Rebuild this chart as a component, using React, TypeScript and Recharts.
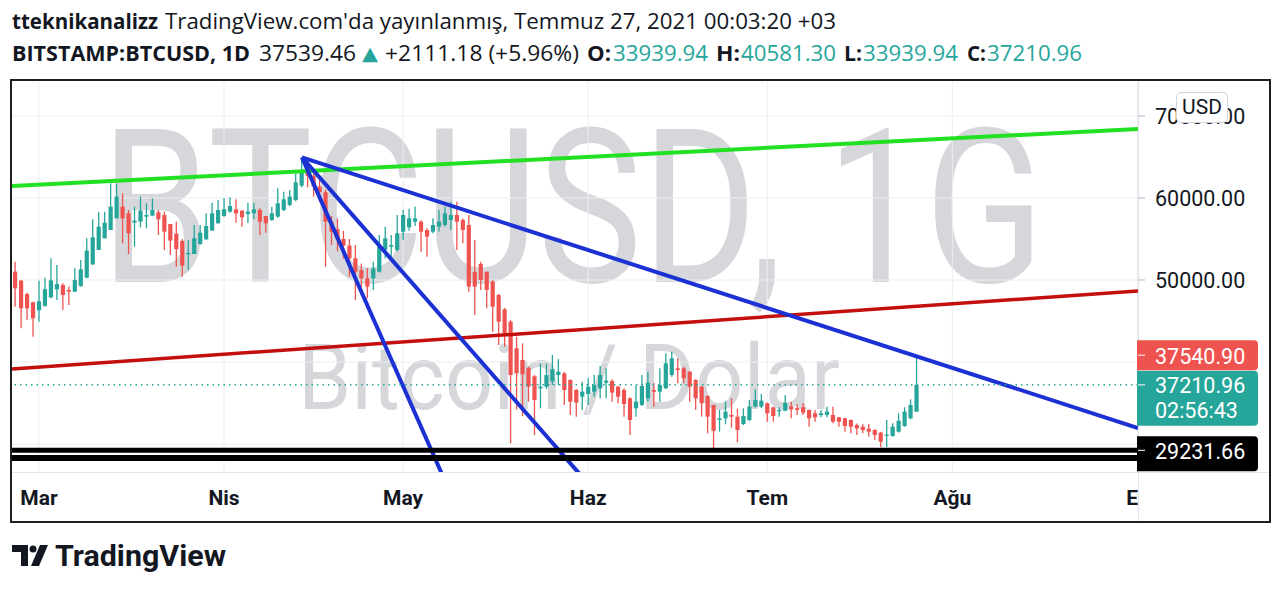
import React, { useLayoutEffect, useRef, useState } from 'react';
import { ComposedChart, Bar, XAxis, YAxis, CartesianGrid, ReferenceLine } from 'recharts';

// ---- data (daily candles, day index 0 = 1 Mart 2021) ----
const FIRST_DAY = -4;
const OPEN = [
  51017, 49919, 48293, 47276, 46300, 46850, 47886, 48862, 49390, 48781,
  48578, 49269, 50285, 51911, 53659, 55082, 56098, 57521, 58944, 58131,
  57000, 57114, 57724, 57846, 58253, 57927, 56830, 55650, 54770, 53211,
  53171, 54390, 54960, 56017, 56911, 57805, 58333, 58618, 58456, 58049,
  58130, 58537, 57805, 57317, 57724, 58537, 59146, 59756, 61500, 63400,
  62700, 61400, 60700, 57114, 56200, 55000, 54200, 52643, 51200, 50203,
  50203, 51017, 53659, 54065, 53659, 55895, 56424, 57114, 57114, 56098,
  55895, 56504, 56708, 57317, 57927, 57317, 56708, 51000, 51951, 51017,
  49797, 48171, 46423, 44919, 41667, 40244, 39300, 38250, 36789, 36992,
  37602, 38415, 38618, 37805, 36585, 35772, 36098, 36382, 36789, 37480,
  37683, 36992, 36585, 35569, 34350, 34756, 35569, 36585, 36382, 36789,
  38415, 39227, 39227, 38821, 37805, 36992, 35853, 34756, 32927, 33130,
  33537, 33333, 32439, 32927, 34553, 34553, 34960, 34472, 34065, 34065,
  34553, 34350, 34472, 34147, 33740, 33537, 33537, 33537, 33253, 33130,
  32927, 32317, 32114, 31870, 31707, 31382, 30976, 30976, 31504, 32195,
  33130, 33939.94,
];
const HIGH = [
  52236, 49999, 48455, 47358, 49900, 50260, 52642, 51829, 49594, 49187,
  51423, 52439, 55082, 57399, 58334, 58334, 61789, 61789, 60570, 58537,
  58944, 60163, 59350, 59960, 58537, 58334, 56830, 57114, 54970, 54878,
  56708, 56708, 58131, 59431, 59756, 59960, 60082, 59838, 58500, 59431,
  59431, 58740, 57805, 58943, 61179, 60773, 60976, 63000, 64878, 64200,
  63000, 62200, 61000, 57800, 57500, 56000, 55000, 54269, 52000, 51424,
  52236, 55488, 56504, 55500, 57927, 58537, 58700, 58944, 57300, 56300,
  57521, 58537, 58944, 59553, 59553, 57500, 57927, 54878, 52236, 51017,
  50000, 48300, 46600, 45100, 43090, 42277, 39431, 38415, 39837, 39837,
  40854, 40325, 38822, 37900, 36700, 37602, 38008, 38415, 39512, 39228,
  37887, 37100, 36789, 35700, 37195, 38415, 38800, 37398, 39228, 41057,
  41260, 40447, 39431, 38900, 37900, 37050, 35950, 34800, 34146, 35200,
  35569, 34300, 34350, 35366, 36667, 36098, 35050, 34500, 34472, 35976,
  35163, 34878, 34960, 34200, 34147, 34147, 34553, 34553, 33300, 33200,
  33000, 32500, 32400, 32439, 31800, 31500, 32927, 32520, 33740, 34472,
  35447, 40581.3,
];
const LOW = [
  46748, 44106, 45122, 43089, 44919, 46748, 47764, 47561, 46342, 46951,
  48578, 49187, 50204, 51829, 53659, 55082, 56098, 57521, 54472, 53171,
  54065, 56423, 56301, 57846, 55488, 53659, 53050, 51626, 50406, 51219,
  53171, 54300, 54900, 56000, 56900, 57724, 58200, 56992, 56504, 56911,
  57400, 55488, 55773, 57200, 57600, 58400, 59000, 59600, 61300, 61300,
  60163, 59600, 51626, 54269, 53500, 52600, 50407, 47561, 49200, 47764,
  48781, 50900, 52643, 52643, 53500, 54878, 56000, 56600, 53455, 52846,
  55700, 55900, 56500, 56100, 53659, 54472, 48578, 45732, 48781, 46545,
  43700, 42073, 41870, 30082, 34200, 33400, 35163, 31098, 34350, 36700,
  37195, 37195, 34756, 33537, 33333, 34146, 34756, 35772, 35569, 35569,
  35163, 34959, 33333, 31098, 33333, 34634, 35163, 34553, 35163, 36700,
  38211, 37398, 37398, 35163, 34146, 33333, 31301, 29500, 31504, 32400,
  32000, 30200, 32317, 32800, 34472, 34400, 32724, 32724, 33333, 34000,
  33130, 33537, 33537, 32114, 32724, 33253, 33253, 32521, 32114, 31504,
  31301, 31098, 31301, 30895, 30488, 29594, 29594, 30895, 31400, 32100,
  33008, 33939.94,
];
const CLOSE = [
  48984, 46545, 46545, 45325, 47400, 48880, 49960, 49512, 48171, 48578,
  50000, 51301, 53578, 55204, 56504, 56992, 58944, 60163, 57521, 55692,
  57236, 58456, 57927, 58537, 57400, 55895, 54800, 53760, 51760, 53300,
  55082, 55773, 56586, 58130, 58537, 58618, 59024, 58130, 57642, 58333,
  58618, 57114, 56911, 58130, 59350, 59838, 60163, 61900, 63400, 62700,
  61400, 60700, 57114, 55894, 55000, 54200, 52643, 51017, 50203, 49187,
  51424, 54065, 55082, 54268, 55692, 57927, 57521, 57521, 55895, 55285,
  56708, 57114, 58130, 57927, 57114, 56098, 49187, 49187, 50000, 48781,
  46748, 44919, 43496, 38415, 38600, 38500, 37000, 35366, 36992, 38415,
  39106, 38822, 36585, 35163, 35041, 36382, 36992, 37195, 38415, 37724,
  36260, 35772, 34878, 32927, 35163, 37073, 37480, 36382, 37195, 39837,
  40447, 39024, 38008, 36992, 35569, 34959, 33333, 31600, 33130, 33943,
  33333, 31707, 33415, 34553, 35366, 35285, 33740, 33415, 34146, 35041,
  34228, 34146, 33821, 33130, 33253, 33740, 33943, 32724, 32724, 32195,
  32114, 31911, 31707, 31504, 31098, 30285, 31138, 32114, 32846, 33943,
  34756, 37210.96,
];

const MONTH_TICKS = [0, 31, 61, 92, 122, 153, 184];
const MONTH_LABELS = ['Mar', 'Nis', 'May', 'Haz', 'Tem', 'Ağu', 'Ey'];
const PRICE_TICKS = [50000, 60000, 70000];
const GRID_PRICES = [30000, 40000, 50000, 60000, 70000];
const X_DOMAIN: [number, number] = [-4.52, 184.1];
const Y_DOMAIN: [number, number] = [26585, 74146];

const GREEN_LINE = [{ x: -4.52, y: 61463 }, { x: 184.1, y: 68415 }];
const RED_LINE = [{ x: -4.52, y: 39146 }, { x: 184.1, y: 48659 }];
const BLUE_LINES = [
  [{ x: 44.05, y: 64950 }, { x: 184.1, y: 31951 }],
  [{ x: 44.05, y: 64950 }, { x: 92.93, y: 24390 }],
  [{ x: 44.05, y: 64950 }, { x: 68.68, y: 24390 }],
];
const LAST_PRICE = 37210.96;
const COUNTDOWN = '02:56:43';
const ALT_PRICE = 37540.9;
const SUPPORT_1 = 29231.66;
const SUPPORT_2 = 28300;

const UP = '#26a69a';
const DOWN = '#ef5350';
const TEXT = '#131722';

const data = OPEN.map((o, i) => ({
  d: FIRST_DAY + i,
  open: o,
  high: HIGH[i],
  low: LOW[i],
  close: CLOSE[i],
  range: [LOW[i], HIGH[i]],
}));

const Candle = (props: any) => {
  const { x, y, width, height, payload } = props;
  if (!payload || x == null || y == null) return null;
  const top = Math.min(y, y + height);
  const h = Math.abs(height);
  const { open, close, high, low } = payload;
  const span = high - low || 1;
  const py = (p: number) => top + ((high - p) / span) * h;
  const color = close >= open ? UP : DOWN;
  const cx = x + width / 2;
  const yo = py(open);
  const yc = py(close);
  const bt = Math.min(yo, yc);
  const bh = Math.max(1.3, Math.abs(yo - yc));
  return (
    <g>
      <line x1={cx} x2={cx} y1={top} y2={top + h} stroke={color} strokeWidth={1.3} />
      <rect x={cx - 2.1} y={bt} width={4.2} height={bh} fill={color} />
    </g>
  );
};

const MonthTick = (props: any) => {
  const { x, payload, index } = props;
  const i = MONTH_TICKS.indexOf(payload.value);
  const id = `mclip${index}`;
  return (
    <g>
      <defs>
        <clipPath id={id}>
          <rect x={12} y={473} width={1126} height={49} />
        </clipPath>
      </defs>
      <text
        x={x}
        y={505}
        textAnchor="middle"
        fontFamily="Roboto"
        fontWeight={700}
        fontSize={21}
        fill={TEXT}
        clipPath={`url(#${id})`}
      >
        {MONTH_LABELS[i]}
      </text>
    </g>
  );
};

const makeTag = (bg: string, texts: string[], top: number, bottom: number, shift = 0) => (props: any) => {
  const vb = props.viewBox || {};
  const x0 = (vb.x ?? 0) + (vb.width ?? 0) - 1;
  const yc = (vb.y ?? 0) + shift;
  const w = 121;
  const r = 4;
  const d = `M${x0},${yc - top} H${x0 + w - r} A${r},${r} 0 0 1 ${x0 + w},${yc - top + r} V${yc + bottom - r} A${r},${r} 0 0 1 ${x0 + w - r},${yc + bottom} H${x0} Z`;
  return (
    <g>
      <path d={d} fill={bg} />
      <line x1={x0 + 1} x2={x0 + 8} y1={yc} y2={yc} stroke="#ffffff" strokeWidth={1} />
      {texts.map((t, k) => (
        <text key={k} x={x0 + 18} y={yc + 8.5 + k * 25} fill="#ffffff" fontFamily="Roboto" fontSize={21.5}>
          {t}
        </text>
      ))}
    </g>
  );
};

const seg = (x: number, y: number, text: string, len: number, opts: any = {}) => (
  <text
    x={x}
    y={y}
    textLength={len}
    lengthAdjust="spacingAndGlyphs"
    fontFamily={opts.family || 'Open Sans'}
    fontWeight={opts.bold ? 700 : 400}
    fontSize={opts.size || 22}
    fill={opts.fill || TEXT}
  >
    {text}
  </text>
);

// watermark text squeezed horizontally with a transform so its box is its real drawn width
const Watermark = ({ x, y, size, width, text }: { x: number; y: number; size: number; width: number; text: string }) => {
  const ref = useRef<SVGTextElement>(null);
  const [sx, setSx] = useState(0.8);
  useLayoutEffect(() => {
    if (ref.current) {
      const w = ref.current.getComputedTextLength();
      if (w > 0) setSx(width / w);
    }
  }, [width]);
  return (
    <text
      ref={ref}
      x={0}
      y={0}
      transform={`translate(${x},${y}) scale(${sx},1)`}
      fontFamily="Roboto"
      fontSize={size}
      fill="#d6d7db"
    >
      {text}
    </text>
  );
};

export default function App() {
  return (
    <div style={{ position: 'absolute', left: 0, top: 0, width: 1280, height: 589, background: '#ffffff', overflow: 'hidden' }}>
      {/* watermark + separators (under the chart) */}
      <svg width={1280} height={589} style={{ position: 'absolute', left: 0, top: 0 }}>
        <Watermark x={101} y={282} size={216} width={943} text="BTCUSD, 1G" />
        <Watermark x={298} y={409} size={90} width={542} text="Bitcoin / Dolar" />
        <line x1={1138.5} x2={1138.5} y1={80} y2={522} stroke="#e0e3eb" strokeWidth={1} />
        <line x1={12} x2={1270} y1={472.5} y2={472.5} stroke="#e0e3eb" strokeWidth={1} />
      </svg>

      <div style={{ position: 'absolute', left: 0, top: 0 }}>
        <ComposedChart width={1280} height={589} data={data} margin={{ top: 82, right: 10, bottom: 67, left: 12 }}>
          <CartesianGrid stroke="#eceef2" verticalValues={MONTH_TICKS} horizontalValues={GRID_PRICES} />
          <XAxis
            dataKey="d"
            type="number"
            domain={X_DOMAIN}
            allowDataOverflow
            ticks={MONTH_TICKS}
            interval={0}
            height={50}
            axisLine={false}
            tickLine={false}
            tick={<MonthTick />}
          />
          <YAxis
            orientation="right"
            type="number"
            domain={Y_DOMAIN}
            allowDataOverflow
            ticks={PRICE_TICKS}
            width={132}
            axisLine={false}
            tickLine={{ stroke: '#b2b5be' }}
            tickSize={7}
            tickMargin={10}
            tickFormatter={(v: number) => v.toFixed(2)}
            tick={{ fontFamily: 'Roboto', fontSize: 21.5, fill: TEXT }}
          />
          <Bar dataKey="range" barSize={4} shape={<Candle />} isAnimationActive={false} />
          <ReferenceLine segment={GREEN_LINE} stroke="#22e022" strokeWidth={4} ifOverflow="hidden" />
          <ReferenceLine segment={RED_LINE} stroke="#c40f0f" strokeWidth={3.5} ifOverflow="hidden" />
          {BLUE_LINES.map((s, i) => (
            <ReferenceLine key={i} segment={s} stroke="#1c31d4" strokeWidth={4} ifOverflow="hidden" />
          ))}
          <ReferenceLine y={SUPPORT_2} stroke="#000000" strokeWidth={6} />
          <ReferenceLine
            y={SUPPORT_1}
            stroke="#000000"
            strokeWidth={5}
            label={makeTag('#000000', [SUPPORT_1.toFixed(2)], 14, 21)}
          />
          <ReferenceLine
            y={LAST_PRICE}
            stroke={UP}
            strokeWidth={1.5}
            strokeDasharray="1.5 4"
            label={makeTag(UP, [LAST_PRICE.toFixed(2), COUNTDOWN], 14, 41)}
          />
          <ReferenceLine
            y={ALT_PRICE}
            stroke="none"
            label={makeTag(DOWN, [ALT_PRICE.toFixed(2)], 15, 15, -27)}
          />
        </ComposedChart>
      </div>

      {/* header, footer, frame */}
      <svg width={1280} height={589} style={{ position: 'absolute', left: 0, top: 0, pointerEvents: 'none' }}>
        {seg(12, 29, 'tteknikanalizz', 146, { bold: true })}
        {seg(165, 29, "TradingView.com'da yayınlanmış, Temmuz 27, 2021 00:03:20 +03", 671)}
        {seg(12, 61, 'BITSTAMP:BTCUSD, 1D', 238, { bold: true })}
        {seg(259, 61, '37539.46', 97)}
        {seg(362, 60, '▲', 16, { family: 'DejaVu Sans', fill: UP, size: 19 })}
        {seg(385, 61, '+2111.18 (+5.96%)', 194)}
        {seg(587, 61, 'O:', 24, { bold: true })}
        {seg(613, 61, '33939.94', 95, { fill: UP })}
        {seg(716, 61, 'H:', 24, { bold: true })}
        {seg(741, 61, '40581.30', 95, { fill: UP })}
        {seg(844, 61, 'L:', 18, { bold: true })}
        {seg(863, 61, '33939.94', 95, { fill: UP })}
        {seg(967, 61, 'C:', 19, { bold: true })}
        {seg(987, 61, '37210.96', 95, { fill: UP })}

        {/* TradingView logo */}
        <path d="M12,545 H28 V566 H21 V552 H12 Z" fill={TEXT} />
        <circle cx={33} cy={549} r={3.5} fill={TEXT} />
        <path d="M40,545 H48 L39,566 H31 Z" fill={TEXT} />
        {seg(55, 566, 'TradingView', 171, { bold: true, family: 'Roboto', size: 30 })}
      </svg>

      <div
        style={{
          position: 'absolute',
          left: 1176,
          top: 92,
          width: 52,
          height: 31,
          boxSizing: 'border-box',
          background: '#ffffff',
          border: '1px solid #d1d4dc',
          borderRadius: 5,
          fontFamily: 'Roboto',
          fontSize: 21,
          color: TEXT,
          textAlign: 'center',
          lineHeight: '29px',
        }}
      >
        USD
      </div>

      <div
        style={{
          position: 'absolute',
          left: 10,
          top: 79,
          width: 1261,
          height: 444,
          boxSizing: 'border-box',
          border: '2px solid #1e1e1e',
          pointerEvents: 'none',
        }}
      />
    </div>
  );
}
